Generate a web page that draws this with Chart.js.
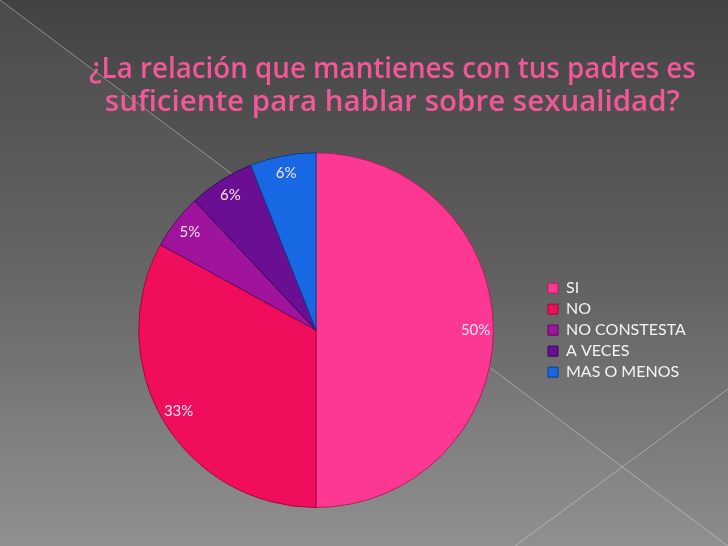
<!DOCTYPE html>
<html>
<head>
<meta charset="utf-8">
<script src="https://cdn.jsdelivr.net/npm/chart.js@4.4.1/dist/chart.umd.min.js"></script>
<style>
    html, body { margin: 0; padding: 0; background: #5a5a5a; }
    #wrap { position: relative; width: 728px; height: 546px; }
</style>
</head>
<body>
<div id="wrap"><canvas id="pieChart"></canvas></div>
<script>
var categories = ["SI", "NO", "NO CONSTESTA", "A VECES", "MAS O MENOS"];
var percentages = [50, 33, 5, 6, 6];
var sliceColors = ["#fd3893", "#ef0d5c", "#a0139c", "#6a0f93", "#1768e2"];
var sliceBorders = ["#b0205f", "#a0083c", "#5e0a5a", "#3c0858", "#0c3f8a"];
var titleLines = ["¿La relación que mantienes con tus padres es", "suficiente para hablar sobre sexualidad?"];

var legendFontSize = 16;
var legendBox = 10;
var legendPad = 5;
var legendBoxX = 548;

// right padding so the legend boxes start at legendBoxX
function legendRightPadding() {
    var c = document.createElement("canvas").getContext("2d");
    c.font = legendFontSize + "px Lato";
    var w = 0;
    categories.forEach(function (t) { w = Math.max(w, c.measureText(t).width); });
    var legendWidth = legendBox + legendFontSize / 2 + w + legendPad + 10;
    return 728 - (legendBoxX - legendPad) - legendWidth;
}

var slideBackground = {
    id: "slideBackground",
    beforeDraw: function (chart) {
        var ctx = chart.ctx, w = chart.width, h = chart.height;
        ctx.save();
        var g = ctx.createLinearGradient(0, 0, 0, h);
        g.addColorStop(0, "#434343");
        g.addColorStop(0.5, "#606060");
        g.addColorStop(1, "#8c8c8c");
        ctx.fillStyle = g;
        ctx.fillRect(0, 0, w, h);
        // lighter lower-left triangle
        ctx.fillStyle = "rgba(255,255,255,0.04)";
        ctx.beginPath();
        ctx.moveTo(0, 0);
        ctx.lineTo(w, h);
        ctx.lineTo(0, h);
        ctx.closePath();
        ctx.fill();
        ctx.strokeStyle = "rgba(225,225,225,0.45)";
        ctx.lineWidth = 1;
        ctx.beginPath();
        ctx.moveTo(0, 0);
        ctx.lineTo(w, h);
        ctx.moveTo(515, h);
        ctx.lineTo(w, 389);
        ctx.stroke();
        ctx.restore();
    }
};

var sliceLabels = {
    id: "sliceLabels",
    afterDatasetsDraw: function (chart) {
        var ctx = chart.ctx;
        var meta = chart.getDatasetMeta(0);
        ctx.save();
        ctx.font = "15px Lato";
        ctx.fillStyle = "#f6e4ef";
        ctx.textAlign = "center";
        ctx.textBaseline = "middle";
        meta.data.forEach(function (arc, i) {
            var p = arc.getProps(["x", "y", "startAngle", "endAngle", "outerRadius"], true);
            var mid = (p.startAngle + p.endAngle) / 2;
            var r = p.outerRadius * 0.9;
            ctx.fillText(percentages[i] + "%", p.x + Math.cos(mid) * r, p.y + Math.sin(mid) * r);
        });
        ctx.restore();
    }
};

function initializeChart() {
    var data = {
        labels: categories,
        datasets: [
            {
                data: percentages,
                backgroundColor: sliceColors,
                borderColor: sliceBorders,
                borderWidth: 1
            }
        ]
    };

    var pieOptions = {
        responsive: true,
        maintainAspectRatio: false,
        animation: false,
        layout: {
            padding: { left: 89, right: legendRightPadding(), top: 0, bottom: 38 }
        },
        plugins: {
            title: {
                display: true,
                text: titleLines,
                color: "#f2579a",
                font: { family: "'Open Sans'", size: 29.5, weight: "600", lineHeight: 1.09 },
                padding: { top: 54, bottom: 34 }
            },
            legend: {
                position: "right",
                fullSize: false,
                labels: {
                    color: "#f4f4f4",
                    boxWidth: legendBox,
                    boxHeight: legendBox,
                    padding: legendPad,
                    font: { family: "Lato", size: legendFontSize }
                }
            },
            tooltip: { enabled: false }
        }
    };

    var ctx = document.getElementById("pieChart").getContext("2d");
    new Chart(ctx, { type: "pie", data: data, options: pieOptions, plugins: [slideBackground, sliceLabels] });
}

initializeChart();
</script>
</body>
</html>
